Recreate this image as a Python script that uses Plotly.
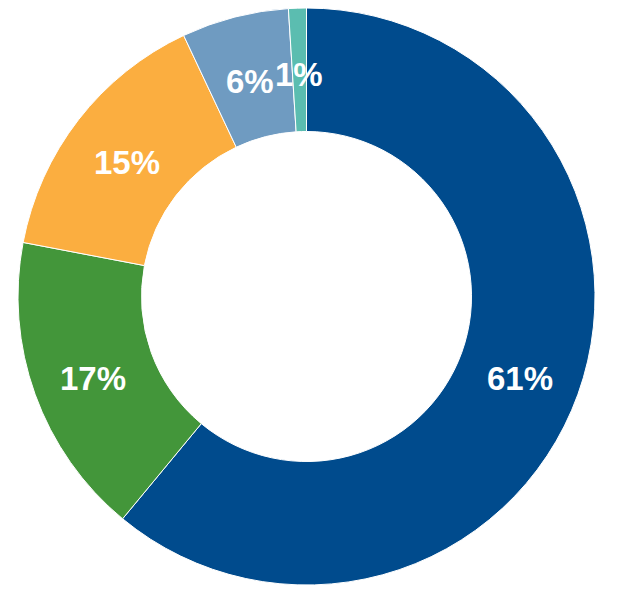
import math
import plotly.graph_objects as go

categories = ["A", "B", "C", "D", "E"]
values = [61, 17, 15, 6, 1]
colors = ["#004B8D", "#43963A", "#FBAE40", "#6F9BC1", "#5BBDB0"]

HOLE = 0.572

fig = go.Figure(go.Pie(
    labels=categories,
    values=values,
    hole=HOLE,
    sort=False,
    direction="clockwise",
    rotation=0,
    marker=dict(colors=colors, line=dict(color="white", width=1)),
    textinfo="none",
    hoverinfo="label+percent",
    showlegend=False,
    automargin=False,
))

# labels at the middle of each ring segment, derived from the data
total = sum(values)
cum = 0.0
r_lab = 0.5 * (1 + HOLE) / 2
annotations = []
for v in values:
    theta = 2 * math.pi * (cum + v / 2) / total
    cum += v
    annotations.append(dict(
        x=0.5 + r_lab * math.sin(theta),
        y=0.5 + r_lab * math.cos(theta),
        xref="paper", yref="paper",
        text=f"{round(100 * v / total)}%",
        showarrow=False,
        font=dict(family="Liberation Sans, Arial, sans-serif", size=33, color="white", weight="bold"),
        xanchor="center", yanchor="middle",
        yshift=-5,
    ))

fig.update_layout(
    width=617, height=595,
    margin=dict(l=10, r=30, t=0, b=18),
    paper_bgcolor="white",
    plot_bgcolor="white",
    annotations=annotations,
)

fig.write_html("out.html")
